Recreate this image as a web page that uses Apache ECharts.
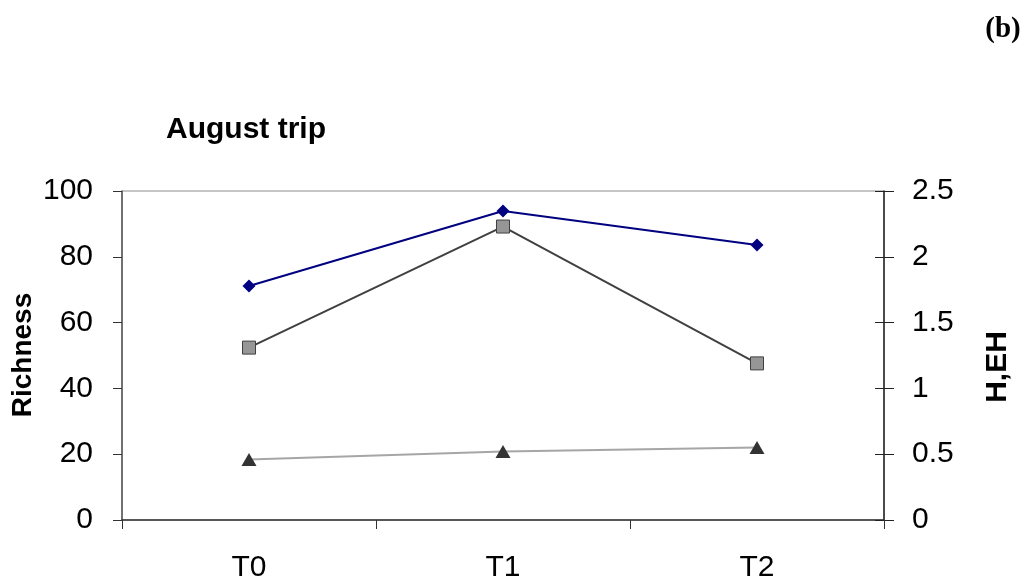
<!DOCTYPE html>
<html>
<head>
<meta charset="utf-8">
<script src="https://cdn.jsdelivr.net/npm/echarts@6/dist/echarts.min.js"></script>
<style>
html,body{margin:0;padding:0;background:#fff;}
#chart{width:1026px;height:584px;}
</style>
</head>
<body>
<div id="chart"></div>
<script>
const categories = ['T0', 'T1', 'T2'];
const richness = [71.1, 93.9, 83.6];
const shannonH = [1.31, 2.23, 1.19];
const evennessEH = [0.46, 0.52, 0.55];
const leftTicks = { min: 0, max: 100, interval: 20 };
const rightTicks = { min: 0, max: 2.5, interval: 0.5 };

const FONT = "'Liberation Sans', Arial, sans-serif";
const chart = echarts.init(document.getElementById('chart'));
chart.setOption({
  animation: false,
  backgroundColor: '#ffffff',
  grid: { left: 122, right: 142, top: 191, bottom: 64, show: true, borderColor: '#8c8c8c', borderWidth: 1 },
  graphic: [
    { type: 'text', left: 166, top: 115, style: { text: 'August trip', font: "bold 30px " + FONT, fill: '#000' } },
    { type: 'text', x: 1003, y: 30, style: { text: '(b)', font: "bold 29px 'Liberation Serif', 'Times New Roman', serif", fill: '#000', align: 'center', verticalAlign: 'middle' } },
    { type: 'text', x: 23, y: 355, rotation: Math.PI / 2, style: { text: 'Richness', font: "bold 28px " + FONT, fill: '#000', align: 'center', verticalAlign: 'middle' } },
    { type: 'text', x: 998, y: 367, rotation: Math.PI / 2, style: { text: 'H,EH', font: "bold 30px " + FONT, fill: '#000', align: 'center', verticalAlign: 'middle' } }
  ],
  xAxis: {
    type: 'category',
    data: categories,
    boundaryGap: true,
    axisLine: { lineStyle: { color: '#333', width: 1.5 } },
    axisTick: { show: true, inside: false, length: 9, alignWithLabel: false, lineStyle: { color: '#333' } },
    axisLabel: { margin: 33, fontSize: 30, color: '#000', fontFamily: FONT },
    splitLine: { show: false }
  },
  yAxis: [
    {
      type: 'value', position: 'left',
      min: leftTicks.min, max: leftTicks.max, interval: leftTicks.interval,
      axisLine: { show: true, lineStyle: { color: '#555', width: 1.5 } },
      axisTick: { show: true, inside: false, length: 9, lineStyle: { color: '#333' } },
      axisLabel: { margin: 29, fontSize: 30, color: '#000', fontFamily: FONT },
      splitLine: { show: false }
    },
    {
      type: 'value', position: 'right',
      min: rightTicks.min, max: rightTicks.max, interval: rightTicks.interval,
      axisLine: { show: true, lineStyle: { color: '#222', width: 1.5 } },
      axisTick: { show: true, inside: false, length: 10, lineStyle: { color: '#222' } },
      axisLabel: { margin: 28, fontSize: 30, color: '#000', fontFamily: FONT },
      splitLine: { show: false }
    },
    {
      type: 'value', position: 'right',
      min: rightTicks.min, max: rightTicks.max, interval: rightTicks.interval,
      axisLine: { show: false },
      axisTick: { show: true, inside: true, length: 9, lineStyle: { color: '#222' } },
      axisLabel: { show: false },
      splitLine: { show: false }
    }
  ],
  series: [
    {
      name: 'EH', type: 'line', yAxisIndex: 1, data: evennessEH,
      symbol: 'triangle', symbolSize: [15, 13],
      lineStyle: { color: '#a6a6a6', width: 2 },
      itemStyle: { color: '#333333', borderColor: '#333333', borderWidth: 0 },
      z: 2
    },
    {
      name: 'H', type: 'line', yAxisIndex: 1, data: shannonH,
      symbol: 'rect', symbolSize: 13,
      lineStyle: { color: '#404040', width: 2 },
      itemStyle: { color: '#969696', borderColor: '#404040', borderWidth: 1 },
      z: 3
    },
    {
      name: 'Richness', type: 'line', yAxisIndex: 0, data: richness,
      symbol: 'diamond', symbolSize: 13,
      lineStyle: { color: '#000080', width: 2 },
      itemStyle: { color: '#000080', borderWidth: 0 },
      z: 4
    }
  ]
});
</script>
</body>
</html>
